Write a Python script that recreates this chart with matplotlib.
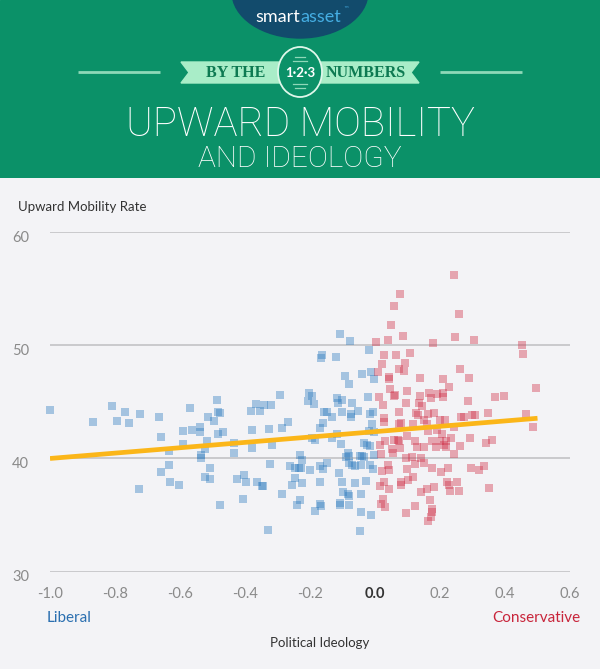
import matplotlib
matplotlib.use("Agg")
import matplotlib.pyplot as plt
from matplotlib.patches import Ellipse, Polygon, Rectangle
from matplotlib.transforms import ScaledTranslation

# ---------------- data ----------------
liberal_x = [-1.000, -0.869, -0.809, -0.793, -0.769, -0.758, -0.722, -0.664, -0.659, -0.592,
             -0.569, -0.562, -0.538, -0.538, -0.513, -0.494, -0.486, -0.483, -0.478, -0.483,
             -0.469, -0.382, -0.379, -0.367, -0.355, -0.342, -0.321, -0.325, -0.292, -0.286,
             -0.268, -0.592, -0.635, -0.534, -0.535, -0.518, -0.522, -0.658, -0.633, -0.631,
             -0.604, -0.726, -0.522, -0.509, -0.509, -0.478, -0.435, -0.433, -0.425, -0.403,
             -0.397, -0.405, -0.379, -0.364, -0.348, -0.344, -0.328, -0.323, -0.317, -0.286,
             -0.262, -0.247, -0.234, -0.229, -0.246, -0.255, -0.231, -0.226, -0.240, -0.231,
             -0.200, -0.169, -0.161, -0.147, -0.224, -0.169, -0.170, -0.166, -0.186, -0.164,
             -0.167, -0.204, -0.195, -0.206, -0.187, -0.158, -0.147, -0.161, -0.170, -0.195,
             -0.185,
             -0.108, -0.076, -0.018, -0.121, -0.091, -0.080, -0.040, -0.011, -0.002, -0.022,
             -0.118, -0.102, -0.114, -0.070, -0.101, -0.052, -0.015, -0.005, -0.074, -0.074,
             -0.131, -0.010, -0.018, -0.003, -0.117, -0.131, -0.105, -0.033, -0.026, -0.015,
             -0.003, -0.084, -0.088, -0.080, -0.047, -0.039, -0.033, -0.079, -0.072, -0.062,
             -0.044, -0.015, -0.007, -0.112, -0.102, -0.062, -0.027, -0.099, -0.084, -0.081,
             -0.043, -0.107, -0.107, -0.079, -0.044, -0.013, -0.046]
liberal_y = [44.3, 43.2, 44.6, 43.3, 44.1, 43.1, 43.9, 43.7, 41.9, 42.4,
             44.5, 42.5, 42.8, 42.3, 43.7, 43.3, 45.2, 44.1, 44.0, 42.2,
             42.3, 44.2, 42.5, 44.8, 44.2, 44.7, 44.7, 42.6, 45.6, 42.7,
             43.2, 41.3, 40.7, 40.3, 40.0, 41.5, 40.8, 38.8, 39.4, 37.9,
             37.7, 37.3, 38.4, 39.2, 38.2, 35.9, 41.4, 40.5, 38.2, 38.5,
             37.9, 36.4, 40.9, 37.9, 37.6, 37.6, 33.7, 39.5, 41.2, 36.9,
             39.3, 39.2, 39.2, 39.2, 38.3, 37.7, 40.3, 39.9, 35.9, 36.3,
             39.0, 39.3, 39.1, 39.6, 37.8, 37.9, 36.0, 35.8, 35.4, 49.1,
             48.9, 45.8, 45.5, 45.1, 44.8, 44.1, 44.1, 43.1, 42.7, 41.8,
             41.6,
             51.0, 50.4, 49.6, 49.0, 47.3, 46.6, 47.5, 47.6, 47.0, 45.4,
             45.3, 45.2, 44.9, 44.9, 44.1, 44.2, 43.9, 44.1, 43.9, 43.7,
             43.7, 43.0, 42.4, 42.3, 42.2, 41.8, 41.3, 41.4, 41.2, 41.1,
             40.3, 40.5, 40.1, 40.2, 40.2, 40.2, 40.1, 39.6, 39.4, 39.3,
             39.4, 39.4, 39.1, 38.7, 37.9, 37.8, 38.0, 37.0, 36.9, 36.7,
             36.9, 36.1, 35.9, 35.9, 35.3, 35.0, 33.6]

conservative_x = [0.078, 0.058, 0.048, 0.085, 0.041, 0.002, 0.029, 0.065, 0.108, 0.022,
                  0.091, 0.074, 0.089, 0.009, 0.044, 0.044, 0.139, 0.047, 0.099, 0.011,
                  0.058, 0.062, 0.138, 0.136, 0.095, 0.026, 0.144, 0.075, 0.126, 0.133,
                  0.027, 0.027, 0.162, 0.166, 0.080, 0.073, 0.116, 0.152, 0.032, 0.014,
                  0.058, 0.071, 0.074, 0.099, 0.124, 0.130, 0.151, 0.078, 0.052, 0.055,
                  0.018, 0.095, 0.115, 0.141, 0.150, 0.122, 0.039, 0.042, 0.021, 0.098,
                  0.118, 0.102, 0.079, 0.079, 0.027, 0.015, 0.044, 0.161, 0.142, 0.025,
                  0.018, 0.032, 0.094, 0.124, 0.162, 0.169,
                  0.242, 0.257, 0.247, 0.306, 0.179, 0.453, 0.456, 0.261, 0.290, 0.210,
                  0.227, 0.191, 0.208, 0.209, 0.172, 0.496, 0.369, 0.396, 0.287, 0.349,
                  0.466, 0.182, 0.265, 0.273, 0.298, 0.308, 0.201, 0.215, 0.485, 0.161,
                  0.162, 0.192, 0.207, 0.244, 0.291, 0.235, 0.174, 0.200, 0.218, 0.213,
                  0.187, 0.219, 0.262, 0.340, 0.359, 0.244, 0.175, 0.226, 0.204, 0.294,
                  0.320, 0.334, 0.222, 0.229, 0.253, 0.182, 0.231, 0.258, 0.351, 0.174,
                  0.174, 0.171]
conservative_y = [54.5, 53.5, 51.8, 50.8, 50.5, 50.3, 49.1, 49.1, 49.3, 48.3,
                  48.4, 47.9, 47.7, 47.6, 47.2, 47.0, 47.1, 46.1, 46.0, 45.4,
                  45.5, 45.6, 45.5, 44.9, 44.9, 44.7, 44.6, 44.1, 44.0, 43.8,
                  43.6, 43.2, 43.9, 45.8, 43.1, 43.0, 43.0, 43.4, 41.5, 41.2,
                  41.6, 41.6, 41.5, 42.0, 41.5, 41.0, 41.0, 40.9, 40.8, 40.5,
                  40.4, 40.0, 40.1, 40.0, 39.6, 39.5, 39.4, 39.0, 38.9, 39.1,
                  38.4, 38.1, 37.9, 37.7, 37.9, 37.6, 37.3, 37.3, 37.0, 36.4,
                  36.0, 35.7, 35.2, 35.8, 34.5, 36.3,
                  56.2, 52.8, 50.7, 50.5, 50.2, 50.0, 49.2, 47.9, 47.1, 47.0,
                  46.3, 45.7, 45.8, 45.4, 45.3, 46.2, 45.4, 45.5, 45.1, 44.0,
                  43.9, 44.0, 43.7, 43.7, 43.8, 43.8, 43.4, 43.4, 42.8, 43.0,
                  42.4, 42.5, 42.2, 42.8, 41.8, 41.8, 41.5, 41.5, 41.5, 41.2,
                  41.0, 41.0, 41.1, 41.4, 41.6, 40.4, 39.2, 39.2, 38.8, 39.2,
                  39.0, 39.3, 37.9, 37.7, 37.9, 37.5, 37.1, 37.1, 37.4, 35.5,
                  35.3, 34.8]

fit_x = [-1.0, 0.5]
fit_y = [40.0, 43.55]

x_ticks = [-1.0, -0.8, -0.6, -0.4, -0.2, 0.0, 0.2, 0.4, 0.6]
x_tick_labels = ["-1.0", "-0.8", "-0.6", "-0.4", "-0.2", "0.0", "0.2", "0.4", "0.6"]
y_ticks = [30, 40, 50, 60]
y_tick_labels = ["30", "40", "50", "60"]

# ---------------- styling ----------------
W, H = 600, 669
BG = "#f3f3f6"
GREEN = "#0b9168"
FONT = "Lato"
TITLE_FONT = "Roboto"

fig = plt.figure(figsize=(W / 100, H / 100), dpi=100, facecolor=BG)

# ---------------- header ----------------
hdr_h = 178
hax = fig.add_axes([0, 1 - hdr_h / H, 1, hdr_h / H])
hax.set_xlim(0, W)
hax.set_ylim(hdr_h, 0)
hax.axis("off")
hax.add_patch(Rectangle((0, 0), W, hdr_h, color=GREEN, zorder=0))
hax.add_patch(Ellipse((300, -8), 136, 92, color="#124b6c", zorder=1))
hax.text(300, 17, "smart", color="white", fontsize=13, family=FONT, ha="right",
         va="center", zorder=2)
hax.text(300, 17, "asset", color="#45aee3", fontsize=13, family=FONT, ha="left",
         va="center", zorder=2)
hax.text(343, 9, "™", color="#45aee3", fontsize=4, family="DejaVu Sans", ha="left",
         va="center", zorder=2)

# side lines
hax.plot([78, 160], [72, 72], color="#8fd8b8", lw=2, solid_capstyle="butt", zorder=1)
hax.plot([440, 522], [72, 72], color="#8fd8b8", lw=2, solid_capstyle="butt", zorder=1)
# ribbon
ribbon = Polygon([(181, 62), (419, 62), (411, 72.5), (419, 83), (181, 83), (189, 72.5)],
                 closed=True, color="#a9edc8", zorder=1)
hax.add_patch(ribbon)
hax.text(236, 73, "BY THE", color="#0d7a52", fontsize=11.5, family="Liberation Serif",
         weight="bold", ha="center", va="center", zorder=2)
hax.text(366, 73, "NUMBERS", color="#0d7a52", fontsize=11.5, family="Liberation Serif",
         weight="bold", ha="center", va="center", zorder=2)
hax.add_patch(Ellipse((300, 72), 44, 50, facecolor=GREEN, edgecolor="#dff7ea", lw=1.3, zorder=3))
hax.text(300, 73, "1·2·3", color="white", fontsize=9.5, family=FONT, weight="bold",
         ha="center", va="center", zorder=4)
for yy, w in [(57, 10), (61, 14), (84, 14), (88, 10)]:
    hax.plot([300 - w / 2, 300 + w / 2], [yy, yy], color="#8fd8b8", lw=0.9, zorder=4)

hax.text(301, 125, "UPWARD MOBILITY", color="white", fontsize=29, family=TITLE_FONT,
         weight="light", ha="center", va="center", zorder=2)
hax.text(300, 159, "AND IDEOLOGY", color="white", fontsize=21.5, family=TITLE_FONT,
         weight="light", ha="center", va="center", zorder=2)

# ---------------- chart ----------------
left, right = 50, 570
top, bottom = 232, 571.7
ax = fig.add_axes([left / W, 1 - bottom / H, (right - left) / W, (bottom - top) / H])
ax.set_facecolor(BG)
ax.set_xlim(-1.0, 0.6)
ax.set_ylim(30, 60)
for s in ax.spines.values():
    s.set_visible(False)
ax.set_yticks(y_ticks)
ax.set_yticklabels(y_tick_labels)
ax.set_xticks(x_ticks)
ax.set_xticklabels(x_tick_labels)
ax.tick_params(axis="both", length=0, labelsize=10.5, labelcolor="#8a8a8a")
ax.tick_params(axis="y", pad=15)
ax.tick_params(axis="x", pad=11)
for lab in ax.get_yticklabels():
    lab.set_family(FONT)
    lab.set_transform(lab.get_transform() + ScaledTranslation(0, -4 / 100, fig.dpi_scale_trans))
for lab in ax.get_xticklabels():
    lab.set_family(FONT)
    if lab.get_text() == "0.0":
        lab.set_weight("bold")
        lab.set_color("#333333")
ax.grid(axis="y", color="#c9c9cc", lw=1.4, zorder=0)
ax.grid(axis="x", visible=False)
ax.set_axisbelow(True)

ax.scatter(liberal_x, liberal_y, marker="s", s=27, color="#2e7bbf", alpha=0.4,
           linewidths=0, zorder=2, clip_on=False)
ax.scatter(conservative_x, conservative_y, marker="s", s=27, color="#d03048", alpha=0.4,
           linewidths=0, zorder=2, clip_on=False)
ax.plot(fit_x, fit_y, color="#fbb619", lw=3.4, solid_capstyle="butt", zorder=3)

fig.text(18 / W, 1 - 207 / H, "Upward Mobility Rate", color="#333333", fontsize=9.5,
         family=FONT, ha="left", va="center")
fig.text(47 / W, 1 - 618 / H, "Liberal", color="#2a6fb0", fontsize=11, family=FONT,
         ha="left", va="center")
fig.text(580 / W, 1 - 618 / H, "Conservative", color="#c8243a", fontsize=11, family=FONT,
         ha="right", va="center")
fig.text(320 / W, 1 - 643 / H, "Political Ideology", color="#333333", fontsize=9.5,
         family=FONT, ha="center", va="center")

fig.savefig("out.png", dpi=100, facecolor=BG)
